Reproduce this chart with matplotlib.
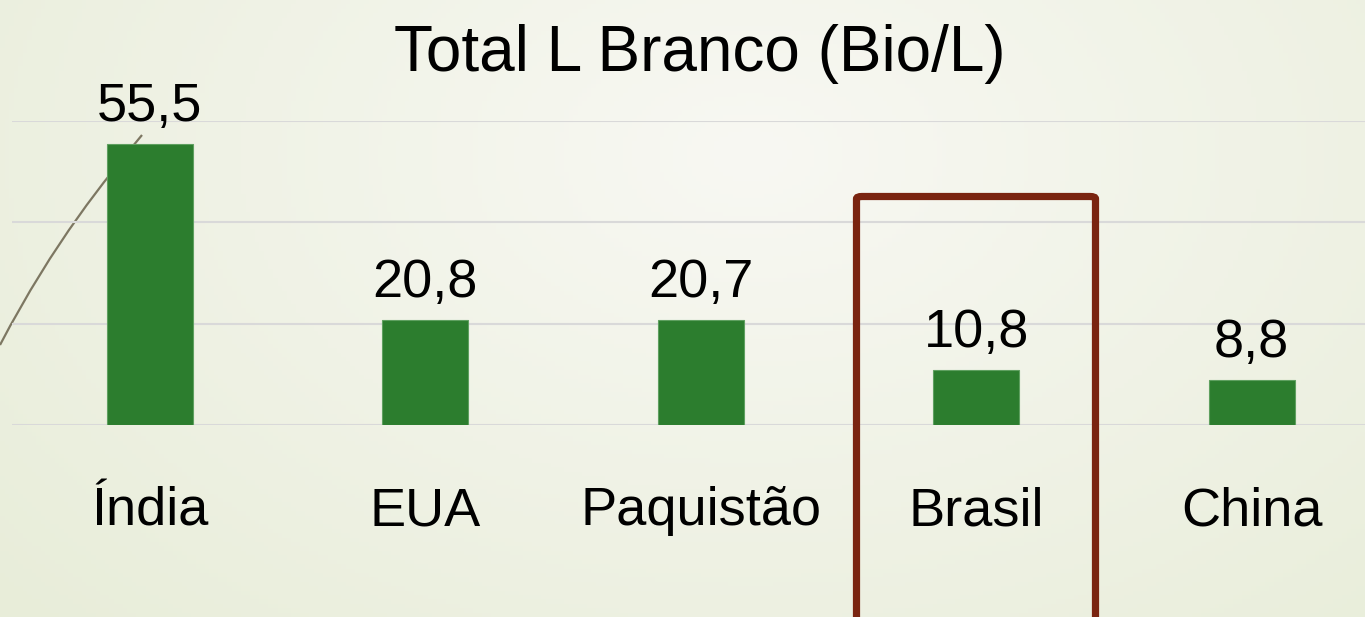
import numpy as np
import matplotlib
matplotlib.use("Agg")
import matplotlib.pyplot as plt
from matplotlib.patches import FancyBboxPatch, PathPatch
from matplotlib.path import Path
from matplotlib import font_manager

categories = ["Índia", "EUA", "Paquistão", "Brasil", "China"]
values = [55.5, 20.8, 20.7, 10.8, 8.8]
value_labels = ["55,5", "20,8", "20,7", "10,8", "8,8"]
title = "Total L Branco (Bio/L)"

names = {f.name for f in font_manager.fontManager.ttflist}
narrow = "Liberation Sans Narrow" in names
FAM = ["Liberation Sans Narrow", "Liberation Sans", "DejaVu Sans"] if narrow else ["Liberation Sans", "DejaVu Sans"]
plt.rcParams['font.family'] = FAM
LAB_FS = 44 if narrow else 39
TITLE_FS = 54 if narrow else 46

W, H = 1365, 617
fig = plt.figure(figsize=(W / 100, H / 100), dpi=100)

# background gradient
bg = fig.add_axes([0, 0, 1, 1], zorder=-10)
xx, yy = np.meshgrid(np.linspace(0, 1, 300), np.linspace(0, 1, 140))
d = np.sqrt(((xx - 0.55) / 0.75) ** 2 + ((yy - 0.25) / 1.1) ** 2)
d = np.clip(d, 0, 1)
c_center = np.array([248, 248, 243]) / 255
c_edge = np.array([232, 237, 217]) / 255
img = c_center[None, None, :] * (1 - d[..., None]) + c_edge[None, None, :] * d[..., None]
bg.imshow(img, extent=[0, W, H, 0], aspect='auto')
bg.set_xlim(0, W)
bg.set_ylim(H, 0)
bg.axis('off')

# decorative swoosh
verts = [(0, 345), (55, 240), (105, 180), (142, 135)]
path = Path(verts, [Path.MOVETO, Path.CURVE4, Path.CURVE4, Path.CURVE4])
bg.add_patch(PathPatch(path, fill=False, edgecolor='#7d7762', lw=1.6))

# main axes
left_px, right_px, base_px, top_px = 12, W, 425, 121
ax = fig.add_axes([left_px / W, 1 - base_px / H, (right_px - left_px) / W, (base_px - top_px) / H])
ax.patch.set_alpha(0)
slot = 275.5
ax.set_xlim(-0.5, -0.5 + (right_px - left_px) / slot)
ax.set_ylim(0, 60)
ax.set_yticks([0, 20, 40, 60])
ax.grid(axis='y', color='#d9d9d9', lw=1.5)
ax.set_axisbelow(True)
for s in ax.spines.values():
    s.set_visible(False)
ax.tick_params(left=False, bottom=False, labelleft=False, labelbottom=False)

x = np.arange(len(categories))
ax.bar(x, values, width=86 / slot, color='#2c7d2e', edgecolor='#5fa060', lw=0.8, zorder=3)

for i, (v, lab) in enumerate(zip(values, value_labels)):
    ax.annotate(lab, xy=(i, v), xytext=(0, 16.5), textcoords='offset points',
                ha='center', va='baseline', fontsize=LAB_FS, color='black', annotation_clip=False)
    ax.annotate(categories[i], xy=(i, 0), xytext=(0, -72), textcoords='offset points',
                ha='center', va='baseline', fontsize=LAB_FS, color='black', annotation_clip=False)

fig.text(700 / W, 1 - 71 / H, title, ha='center', va='baseline', fontsize=TITLE_FS, color='black')

# highlight box around Brasil
bx0, bx1, by0 = 856.5, 1095.5, 196.5
box = FancyBboxPatch((bx0 / W, -0.05), (bx1 - bx0) / W, (1 - by0 / H) + 0.05,
                     boxstyle="round,pad=0,rounding_size=0.004", transform=fig.transFigure,
                     fill=False, edgecolor='#7a2410', lw=5.2, zorder=20)
fig.patches.append(box)

fig.savefig("out.png", dpi=100)
